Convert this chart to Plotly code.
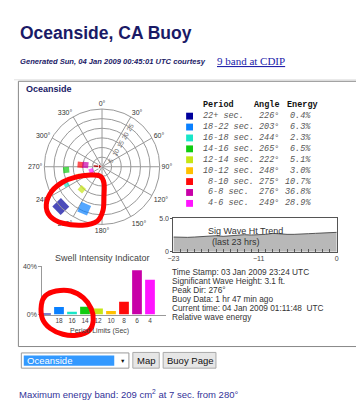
import plotly.graph_objects as go

W, H = 364, 400


def px(x):
    return x / W


def py(y):
    return 1 - y / H


# ---------------- data ----------------
band_periods = ["22+ sec.", "18-22 sec.", "16-18 sec.", "14-16 sec.", "12-14 sec.",
                "10-12 sec.", "8-10 sec.", "6-8 sec.", "4-6 sec."]
band_angles = [226, 203, 244, 265, 222, 248, 275, 276, 249]
band_energy = [0.4, 6.3, 2.3, 6.5, 5.1, 3.0, 10.7, 36.8, 28.9]
band_radius = [29.8, 23.7, 20.6, 18.7, 15.7, 13.5, 11.2, 8.7, 6.0]
bar_labels = ["", "18", "16", "14", "12", "10", "8", "6", "4"]

trend_hours = list(range(-23, 1))
trend_height = [2.2, 2.15, 2.15, 2.2, 2.25, 2.35, 2.4, 2.3, 2.4, 2.45, 2.55, 2.5,
                2.5, 2.6, 2.75, 2.65, 2.6, 2.6, 2.7, 2.7, 2.75, 2.8, 2.85, 2.9]
trend_ticks = [-23, -11, 0]

peak_dir = 276
radial_ticks = [5, 10, 15, 20, 25]

info_lines = [
    "Time Stamp: 03 Jan 2009 23:24 UTC",
    "Significant Wave Height: 3.1 ft.",
    "Peak Dir: 276°",
    "Buoy Data: 1 hr 47 min ago",
    "Current time: 04 Jan 2009 01:11:48  UTC",
    "Relative wave energy",
]

# ---------------- styles ----------------
band_colors = ["#00009c", "#0a80ff", "#18e6c8", "#10cc10", "#c6e614",
               "#ffc000", "#ff0a0a", "#c800a8", "#ff14ff"]
band_marker_size = [12, 10.5, 5, 6, 6, 5, 6, 6, 4.5]

FONT = "Liberation Sans, Arial, sans-serif"
MONO = "Liberation Mono, Courier New, monospace"
NAVY = "#1a1a66"

fig = go.Figure()

# polar swell markers (rotated squares)
fig.add_trace(go.Scatterpolar(
    r=band_radius, theta=band_angles, mode="markers",
    marker=dict(symbol="square", size=band_marker_size, color=band_colors,
                angle=band_angles, line=dict(width=0)),
    cliponaxis=False, subplot="polar", showlegend=False, hoverinfo="skip",
))
# peak direction arrow
fig.add_trace(go.Scatterpolar(
    r=[4.6, 1.2], theta=[peak_dir, peak_dir], mode="lines+markers",
    line=dict(color="#b00000", width=1.3),
    marker=dict(symbol=["circle", "triangle-right"], size=[1, 5], color="#b00000"),
    subplot="polar", showlegend=False, hoverinfo="skip",
))

# swell intensity bars
fig.add_trace(go.Bar(
    x=list(range(len(band_energy))), y=band_energy,
    marker=dict(color=band_colors, line=dict(width=0)),
    width=0.75, xaxis="x", yaxis="y", showlegend=False, hoverinfo="skip",
))

# wave height trend
fig.add_trace(go.Scatter(
    x=trend_hours, y=trend_height, mode="lines", fill="tozeroy",
    fillcolor="#b8b8b8", line=dict(color="#555555", width=1),
    xaxis="x2", yaxis="y2", showlegend=False, hoverinfo="skip",
))

annotations = []


def text(x, y, s, size=9, color="#333", xanchor="left", family=FONT, yanchor="middle"):
    annotations.append(dict(x=px(x), y=py(y), xref="paper", yref="paper", text=s,
                            showarrow=False, xanchor=xanchor, yanchor=yanchor,
                            font=dict(size=size, color=color, family=family)))


text(4, 21, "<b>Oceanside, CA Buoy</b>", size=17.5, color=NAVY)
text(4, 50.5, "<b><i>Generated Sun, 04 Jan 2009 00:45:01 UTC courtesy</i></b>", size=7.6, color=NAVY)
text(206, 49.5, "<u>9 band at CDIP</u>", size=11, color="#2222aa",
     family="Liberation Serif, Times New Roman, serif")
text(10, 78.5, "<b>Oceanside</b>", size=9, color=NAVY)

# legend table
text(191, 95, "<b>Period</b>", size=8.5, color="#111", family=MONO)
text(243, 95, "<b>Angle</b>", size=8.5, color="#111", family=MONO)
text(277, 95, "<b>Energy</b>", size=8.5, color="#111", family=MONO)
shapes = []
for i, (p, a, e, c) in enumerate(zip(band_periods, band_angles, band_energy, band_colors)):
    yy = 106 + i * 11.1
    xoff = 5.1 if p[1] == "-" else 0
    text(191 + xoff, yy, "<i>%s</i>" % p, size=8.5, color="#555", family=MONO)
    text(248, yy, "<i>%d°</i>" % a, size=8.5, color="#555", family=MONO)
    text(306, yy, "<i>%.1f%%</i>" % e, size=8.5, color="#555", family=MONO, xanchor="right")
    shapes.append(dict(type="rect", xref="paper", yref="paper", x0=px(176), x1=px(183),
                       y0=py(yy + 3.5), y1=py(yy - 3.5), fillcolor=c, line=dict(width=0)))

# trend labels
text(237, 222.5, "Sig Wave Ht Trend", size=9, color="#333", xanchor="center")
text(200, 234, "(last 23 hrs)", size=9, color="#333")

# bar chart labels
text(90, 250, "Swell Intensity Indicator", size=9, color="#444", xanchor="center")
text(87, 325, "Period Limits (Sec)", size=7, color="#444", xanchor="center")

# info block
for i, s in enumerate(info_lines):
    text(159, 265 + i * 9.0, s, size=8.3, color="#333")

# form controls
shapes += [
    dict(type="rect", xref="paper", yref="paper", x0=px(7.5), x1=px(117.5), y0=py(362.5), y1=py(347),
         fillcolor="white", line=dict(color="#999", width=1)),
    dict(type="rect", xref="paper", yref="paper", x0=px(10), x1=px(102.5), y0=py(360), y1=py(349.5),
         fillcolor="#3399ff", line=dict(width=0)),
    dict(type="rect", xref="paper", yref="paper", x0=px(121.5), x1=px(148.5), y0=py(362.5), y1=py(346.5),
         fillcolor="#e6e6e6", line=dict(color="#aaa", width=1)),
    dict(type="rect", xref="paper", yref="paper", x0=px(152.5), x1=px(206.5), y0=py(362.5), y1=py(346.5),
         fillcolor="#e6e6e6", line=dict(color="#aaa", width=1)),
]
text(11, 355, "Oceanside", size=9.5, color="white")
text(111, 355, "▼", size=5.5, color="#111", xanchor="center")
text(135, 354.5, "Map", size=9.5, color="#111", xanchor="center")
text(179.5, 354.5, "Buoy Page", size=9.5, color="#111", xanchor="center")
text(3, 388.5, "Maximum energy band: 209 cm<sup>2</sup> at 7 sec. from 280°", size=9.5, color="#333399")

# page decoration
shapes += [
    dict(type="line", xref="paper", yref="paper", x0=0, x1=1, y0=py(69), y1=py(69),
         line=dict(color="#e2e2e2", width=1), layer="below"),
    dict(type="rect", xref="paper", yref="paper", x0=px(4.5), x1=px(357.5), y0=py(340.5), y1=py(70.5),
         line=dict(color="#888", width=1), layer="below"),
]


def smooth_closed(points):
    pts = [(px(x), py(y)) for x, y in points]
    n = len(pts)
    d = "M %.5f,%.5f" % pts[0]
    for i in range(n):
        p0, p1, p2, p3 = pts[i - 1], pts[i], pts[(i + 1) % n], pts[(i + 2) % n]
        c1 = (p1[0] + (p2[0] - p0[0]) / 6, p1[1] + (p2[1] - p0[1]) / 6)
        c2 = (p2[0] - (p3[0] - p1[0]) / 6, p2[1] - (p3[1] - p1[1]) / 6)
        d += " C %.5f,%.5f %.5f,%.5f %.5f,%.5f" % (c1 + c2 + p2)
    return d + " Z"


loop_polar = [(88, 167), (78, 166), (63, 168), (50, 173), (39, 182), (33, 196), (37, 208),
              (50, 215), (70, 217), (85, 213), (91, 202), (92, 187), (92, 174)]
loop_bars = [(43, 284), (58, 284), (71, 291), (79, 302), (81, 314), (77, 324), (64, 329),
             (50, 328), (37, 322), (29, 312), (28, 298), (32, 289)]
for loop in (loop_polar, loop_bars):
    shapes.append(dict(type="path", xref="paper", yref="paper", path=smooth_closed(loop),
                       line=dict(color="#ff0000", width=5), layer="above"))

bar_tickvals = [i for i, lab in enumerate(bar_labels) if lab]
bar_ticktext = [lab for lab in bar_labels if lab]

fig.update_layout(
    width=W, height=H, autosize=False,
    margin=dict(l=0, r=0, t=0, b=0),
    paper_bgcolor="white", plot_bgcolor="white",
    font=dict(family=FONT, size=9, color="#333"),
    showlegend=False,
    polar=dict(
        domain=dict(x=[px(31), px(149)], y=[py(216.5), py(98.5)]),
        bgcolor="white",
        angularaxis=dict(rotation=90, direction="clockwise", dtick=30, ticksuffix="°",
                         showline=True, linecolor="#999", linewidth=1, gridcolor="#999",
                         ticks="", tickfont=dict(size=7, color="#333")),
        radialaxis=dict(range=[0, 30], tickvals=radial_ticks, angle=60, showline=False,
                        gridcolor="#999", ticks="", tickfont=dict(size=6.5, color="#666")),
    ),
    xaxis=dict(domain=[px(29), px(155)], range=[-0.28, 9.2], anchor="y",
               tickvals=bar_tickvals, ticktext=bar_ticktext,
               showline=True, linecolor="#999", ticks="", showgrid=False, zeroline=False,
               tickfont=dict(size=6.5, color="#444")),
    yaxis=dict(domain=[py(308), py(259)], range=[0, 40], anchor="x", tickvals=[0, 40],
               ticktext=["0%", "40%"], showline=True, linecolor="#999", ticks="outside",
               ticklen=3, tickcolor="#999", showgrid=False, zeroline=False,
               tickfont=dict(size=7, color="#444")),
    xaxis2=dict(domain=[px(163), px(330)], range=[-23, 0], anchor="y2", tickvals=trend_ticks,
                showline=True, mirror=True, linecolor="#555", ticks="inside", ticklen=3,
                tickcolor="#555", showgrid=False, zeroline=False,
                minor=dict(ticks="inside", ticklen=3, dtick=1, tick0=0, tickcolor="#555"),
                tickfont=dict(size=7, color="#444")),
    yaxis2=dict(domain=[py(244), py(210)], range=[0, 5], anchor="x2", tickvals=[0, 5],
                ticktext=["0", "5.0"], showline=True, mirror=True, linecolor="#555",
                ticks="outside", ticklen=2, tickcolor="#555", showgrid=False, zeroline=False,
                tickfont=dict(size=7, color="#444")),
    annotations=annotations,
    shapes=shapes,
)

fig.write_html("out.html")
